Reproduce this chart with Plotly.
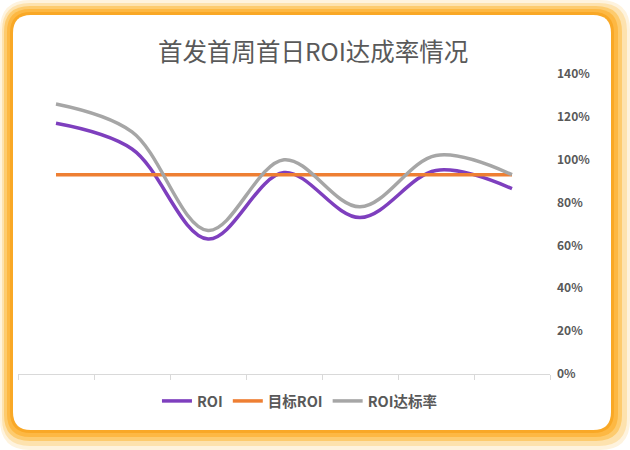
import plotly.graph_objects as go

categories = ["1", "2", "3", "4", "5", "6", "7"]
roi = [1.17, 1.05, 0.63, 0.94, 0.73, 0.95, 0.865]
target_roi = [0.93, 0.93, 0.93, 0.93, 0.93, 0.93, 0.93]
roi_rate = [1.26, 1.13, 0.67, 1.00, 0.78, 1.02, 0.93]
y_ticks = [0, 0.2, 0.4, 0.6, 0.8, 1.0, 1.2, 1.4]

W, H = 630, 450
ML, MR, MT, MB = 18, 80, 74, 76
PW, PH = W - ML - MR, H - MT - MB


def px(x):
    return (x - ML) / PW


def py(y):
    return (H - MB - y) / PH


def rrect(x0, y0, x1, y1, r):
    def P(x, y):
        return f"{px(x):.5f},{py(y):.5f}"
    d = f"M {P(x0 + r, y0)} L {P(x1 - r, y0)} Q {P(x1, y0)} {P(x1, y0 + r)} "
    d += f"L {P(x1, y1 - r)} Q {P(x1, y1)} {P(x1 - r, y1)} "
    d += f"L {P(x0 + r, y1)} Q {P(x0, y1)} {P(x0, y1 - r)} "
    d += f"L {P(x0, y0 + r)} Q {P(x0, y0)} {P(x0 + r, y0)} Z"
    return d


shapes = []
for (x0, y0, x1, y1, r, c) in [
    (0, 0, 630, 450, 30, "#FEF3DE"),
    (2, 3, 627, 446, 28, "#FDE2AE"),
    (4, 6, 622, 441, 26, "#FDCB6E"),
    (7, 9, 618, 437, 23, "#FDB843"),
    (10, 12, 614, 433, 21, "#F9A826"),
    (13, 15, 611, 430, 18, "#FFFFFF"),
]:
    shapes.append(dict(type="path", path=rrect(x0, y0, x1, y1, r), xref="paper", yref="paper",
                       fillcolor=c, line=dict(width=0), layer="below"))

fig = go.Figure()
fig.add_trace(go.Scatter(x=categories, y=roi, name="ROI", mode="lines",
                         line=dict(color="#7E3FBE", width=3.5, shape="spline", smoothing=1)))
fig.add_trace(go.Scatter(x=categories, y=target_roi, name="目标ROI", mode="lines",
                         line=dict(color="#EE7F33", width=3.5, shape="spline")))
fig.add_trace(go.Scatter(x=categories, y=roi_rate, name="ROI达标率", mode="lines",
                         line=dict(color="#A6A6A6", width=3.5, shape="spline", smoothing=1)))

fig.update_layout(
    width=W, height=H,
    margin=dict(l=ML, r=MR, t=MT, b=MB),
    paper_bgcolor="#FFFFFF",
    plot_bgcolor="rgba(0,0,0,0)",
    font=dict(family="Noto Sans CJK SC, Noto Sans, sans-serif", color="#595959"),
    title=dict(text="首发首周首日ROI达成率情况", x=0.497, xanchor="center", y=0.884, yanchor="middle",
               font=dict(size=24.5, color="#595959")),
    shapes=shapes,
    showlegend=True,
    legend=dict(orientation="h", x=0.53, xanchor="center", y=-0.09, yanchor="middle",
                font=dict(size=14.5, color="#595959", weight="bold"), bgcolor="rgba(0,0,0,0)",
                itemwidth=30, traceorder="normal"),
    xaxis=dict(type="category", range=[-0.5, 6.5], showticklabels=False, showgrid=False,
               showline=True, linecolor="#D9D9D9", linewidth=1, ticks="outside", tickson="boundaries",
               ticklen=5, tickcolor="#D9D9D9", zeroline=False, fixedrange=True),
    yaxis=dict(side="right", range=[0, 1.4], tickvals=y_ticks, tickformat=".0%", showgrid=False,
               showline=False, zeroline=False, ticks="", ticklabelstandoff=6,
               tickfont=dict(size=12, color="#595959", weight="bold"), fixedrange=True),
)

fig.write_html("out.html", config={"displayModeBar": False},
               post_script="document.body.style.margin='0';document.body.style.padding='0';")
